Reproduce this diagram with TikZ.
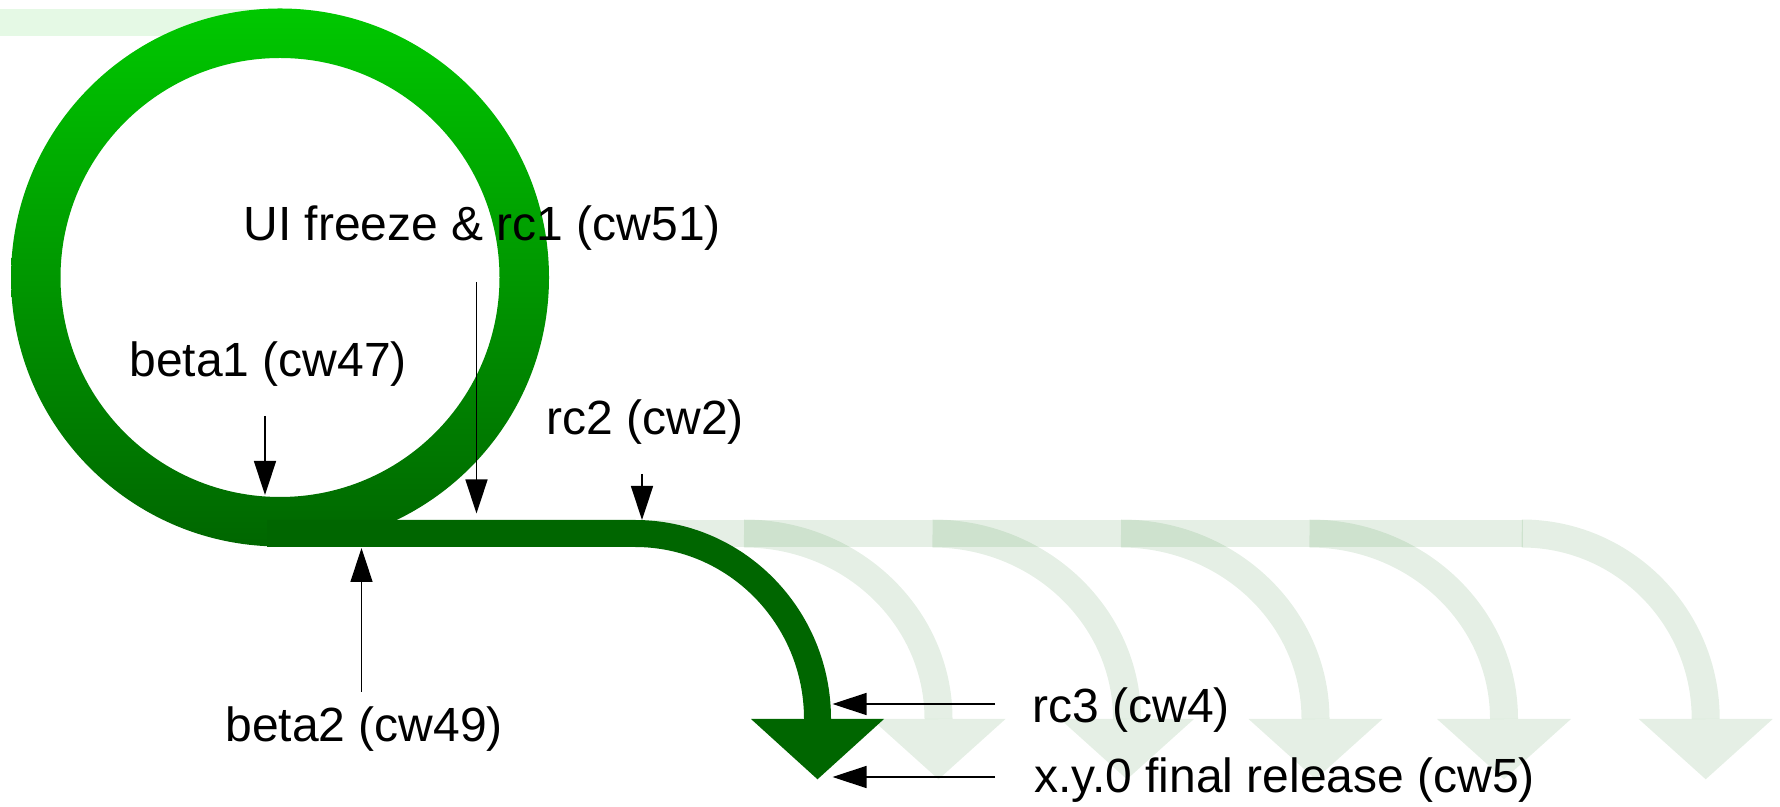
\documentclass[tikz,border=0pt]{standalone}
\usepackage{fontspec}
\setmainfont{Liberation Sans}
\usetikzlibrary{arrows.meta}
\definecolor{relgreen}{RGB}{0,102,0}
\definecolor{freshgreen}{RGB}{0,200,0}
\begin{document}
\begin{tikzpicture}
    [x=0.5pt,y=0.5pt,
     milestone/.style={anchor=base west,inner sep=0pt,font=\fontsize{24}{28}\selectfont},
     pointer/.style={line width=0.75pt,-{Triangle[length=17pt,width=11pt]}},
     branch/.style={relgreen,line width=13.5pt},
     ghost/.style={relgreen,opacity=0.1,line width=14pt}]
    \useasboundingbox (0,0) rectangle (1780,807);

    \fill[freshgreen,opacity=0.1] (0,771) rectangle (280,798);
    \shade[top color=freshgreen,bottom color=relgreen,even odd rule]
      (280,529.5) circle (269) (280,529.5) circle (219.5);

    \draw[ghost,line width=13.5pt] (635,273.5) -- (1522.5,273.5);
    \foreach \s/\r in {744/194.5,932.5/194.5,1121/194.5,1309.5/194.5,1521.7/184}{
      \draw[ghost] (\s,273.5) arc[start angle=90,end angle=0,x radius=\r,y radius=185.5];
      \fill[ghost] (\s+\r-67,88) -- (\s+\r+67,88) -- (\s+\r,27.7) -- cycle;
    }

    \draw[branch] (267,273.5) -- (635,273.5)
      arc[start angle=90,end angle=0,x radius=182.5,y radius=185.5];
    \fill[relgreen] (751,88) -- (884,88) -- (817.5,27.7) -- cycle;

    \node[milestone] (ui) at (243,566) {UI freeze \& rc1 (cw51)};
    \node[milestone] (beta1) at (129,430) {beta1 (cw47)};
    \node[milestone] (rc2) at (546,372) {rc2 (cw2)};
    \node[milestone] (beta2) at (225,65) {beta2 (cw49)};
    \node[milestone] (rc3) at (1032,84.3) {rc3 (cw4)};
    \node[milestone] (final) at (1034,14) {x.y.0 final release (cw5)};

    \coordinate (b1from) at (265,391);
    \coordinate (b1to) at (265,312);
    \coordinate (uifrom) at (476.5,525);
    \coordinate (uito) at (476.5,293.5);
    \coordinate (rc2from) at (642,333);
    \coordinate (rc2to) at (642,287);
    \coordinate (b2from) at (361.5,115);
    \coordinate (b2to) at (361.5,259);
    \coordinate (rc3from) at (995,103);
    \coordinate (rc3to) at (832.5,103);
    \coordinate (finfrom) at (995,30);
    \coordinate (finto) at (832.5,30);

    \draw[pointer] (b1from) -- (b1to);
    \draw[pointer] (uifrom) -- (uito);
    \draw[pointer] (rc2from) -- (rc2to);
    \draw[pointer] (b2from) -- (b2to);
    \draw[pointer] (rc3from) -- (rc3to);
    \draw[pointer] (finfrom) -- (finto);
\end{tikzpicture}
\end{document}
